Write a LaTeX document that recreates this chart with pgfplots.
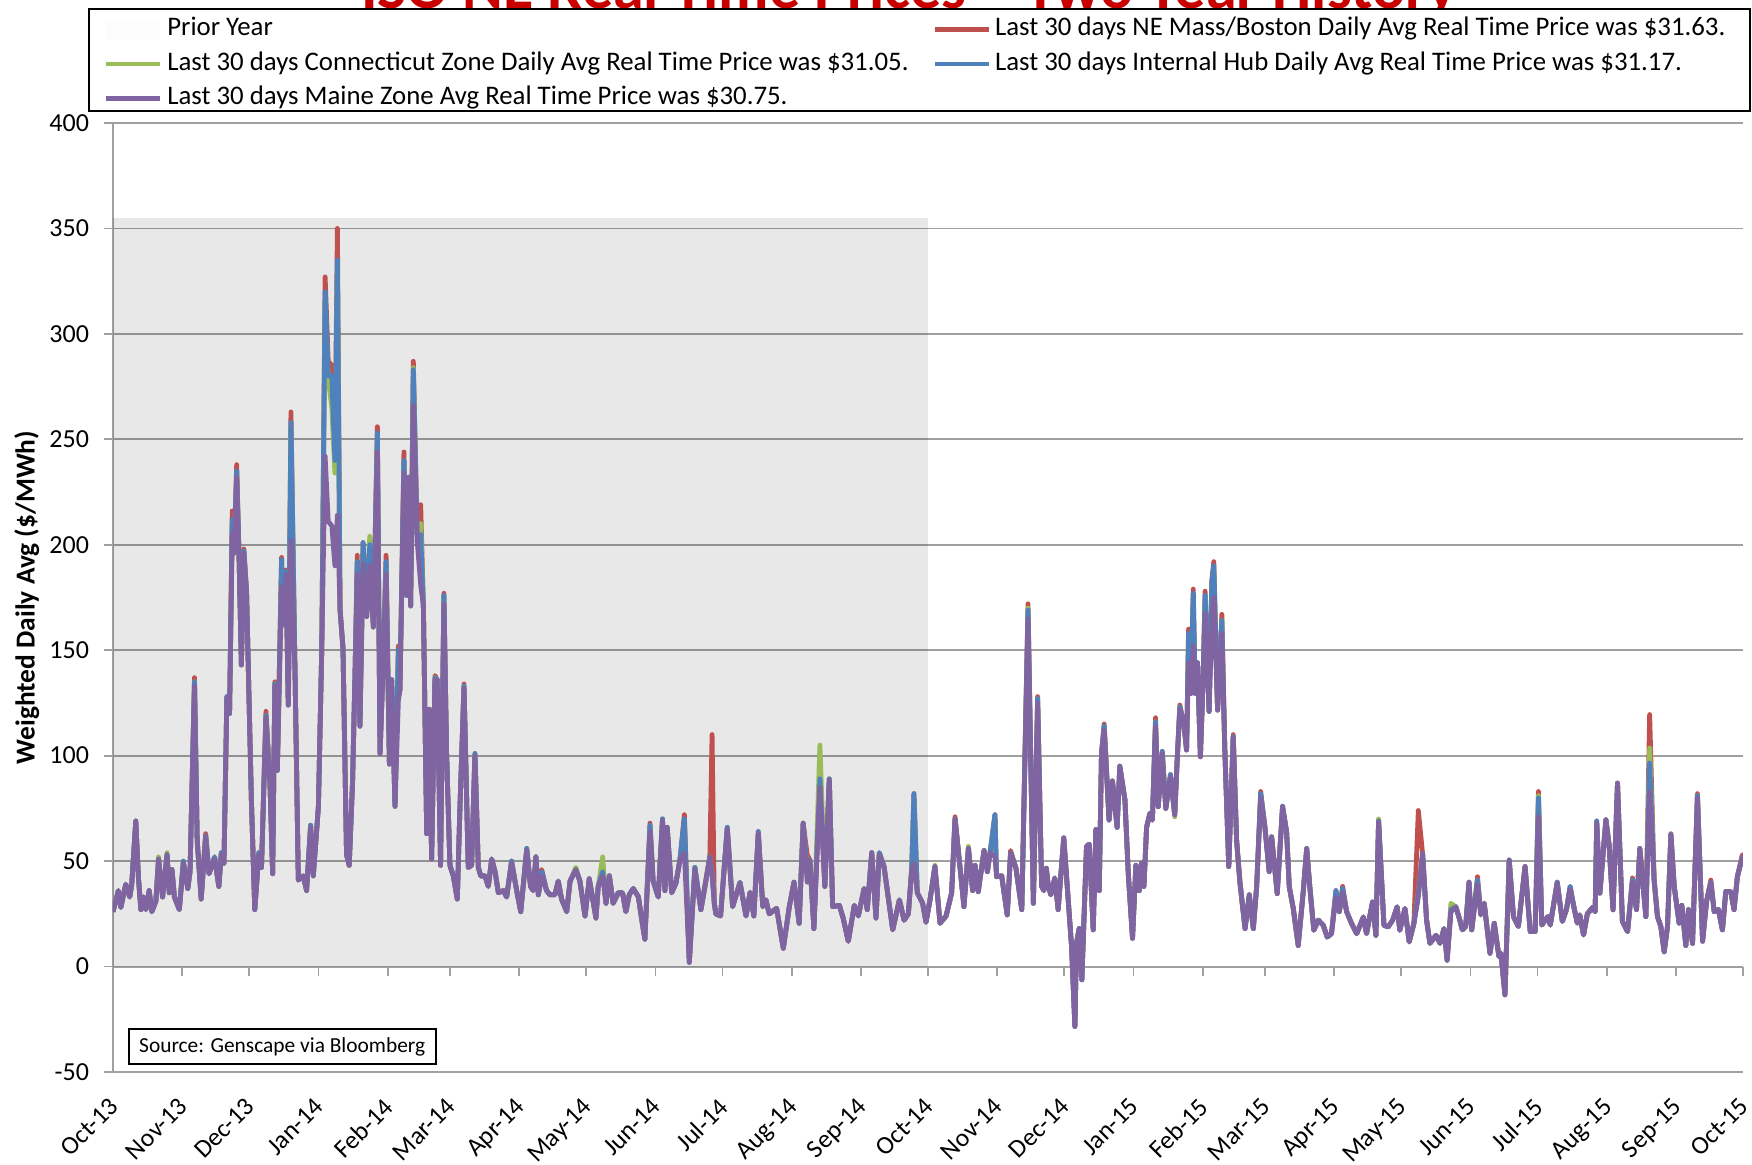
\documentclass[border=0pt]{standalone}
\usepackage{pgfplots}
\pgfplotsset{compat=1.18}
\usepackage{pgfplotstable}
\usepackage{fontspec}
\setmainfont{Carlito}
\definecolor{sred}{RGB}{192,80,77}
\definecolor{sgreen}{RGB}{155,187,89}
\definecolor{sblue}{RGB}{79,129,189}
\definecolor{spurple}{RGB}{128,100,162}
\definecolor{gridgray}{RGB}{160,160,160}
\definecolor{titlered}{RGB}{200,0,0}
\pgfplotstableread{
d P B G R
0 26 26 26 26
2.4 36 36 36 36
3.5 28 28 28 28
5.7 39 39 39 39
7.5 33 33 33 33
8.4 39 39 39 39
10.2 69 69 69 69
11.4 42 42 42 42
12.5 27 27 27 27
13.7 33 33 33 33
14.7 27 27 27 27
16.2 36 36 36 36
17.4 26 26 26 26
19.2 31 31 31 31
20.4 51 51 52 51
22.2 33 33 33 33
24.2 53 53 54 53
25.2 35 35 35 35
26.4 46 46 46 46
27.5 33 33 33 33
29.7 27 27 27 27
31.5 49 50 50 49
33.5 37 37 37 37
34.5 45 45 45 45
36.5 133 135 135 137
37.7 60 60 60 60
39.5 32 32 32 32
41.5 62 62 62 63
43 44 44 44 44
45.5 51 52 52 52
47.4 38 38 38 38
48.5 53 54 54 54
49.7 49 49 49 49
51 127 128 127 128
52.2 120 120 120 120
53.4 205 212 210 216
54.2 196 196 196 196
55.4 232 235 234 238
56.5 192 192 192 192
57.5 143 143 143 143
58.6 196 197 197 198
59.8 178 178 178 178
62 78 78 78 78
63.5 27 27 27 27
65.3 53 54 54 54
66.5 47 47 47 47
68.5 118 119 119 121
70.3 87 87 87 87
71.5 44 44 44 44
72.5 133 134 134 135
73.6 93 93 93 93
75.5 180 193 190 194
76.3 162 162 162 162
77.5 186 187 187 188
78.5 124 124 124 124
79.7 202 258 255 263
81.5 141 141 141 141
83 41 41 41 41
85.2 43 43 43 43
86.7 36 36 36 36
88.5 66 67 67 67
89.7 43 43 43 43
92 76 76 76 76
93.5 151 151 151 151
95 242 320 316 327
96.4 211 280 279 287
98 209 280 265 285
99.4 190 240 234 245
100.5 214 335 330 350
101.7 169 169 169 169
103 151 151 151 151
104.6 53 53 53 53
105.8 48 48 48 48
107.3 88 88 88 88
108.4 139 139 139 139
109.4 186 192 190 195
110.6 114 114 114 114
112 191 201 198 201
113.6 166 166 166 166
115 190 200 204 202
116.6 161 161 161 161
118.4 244 253 252 256
119.6 101 101 101 101
121 144 144 144 144
122.3 186 192 190 195
123.8 96 96 96 96
124.8 136 136 136 136
126.3 76 76 76 76
127.8 126 150 148 152
128.5 131 131 131 131
130.3 234 240 238 244
131.5 176 176 176 176
132.3 232 232 232 232
133.3 171 171 171 171
134.5 266 283 284 287
136.3 201 201 201 201
137.8 181 205 210 219
139 171 171 171 171
140.5 63 63 63 63
141.7 122 122 122 122
142.7 51 51 51 51
144.2 136 137 137 138
145.2 136 136 136 136
146.7 48 48 48 48
148.2 172 176 175 177
149.4 101 101 101 101
150.9 48 48 48 48
152.4 43 43 43 43
154.2 32 32 32 32
155.4 76 76 76 76
157.2 132 133 133 134
159.1 47 47 47 47
160.6 48 48 48 48
162.1 100 101 101 101
163.6 47 47 47 47
164.7 43 43 43 43
166.6 43 43 43 43
168.1 38 38 38 38
169.6 51 51 51 51
171.1 45 45 45 45
172.6 35 35 35 35
174.8 36 36 36 36
176.3 33 33 33 33
178.5 49 50 50 50
180.8 36 36 36 36
182.6 26 26 26 26
185.3 55 56 55 56
187 38 38 38 38
188.2 36 36 36 36
189.4 52 52 52 52
190.5 34 34 34 34
192 43 45 44 46
194.2 36 36 36 36
195.7 34 34 34 34
197.9 34 34 34 34
199.4 40.5 40.5 40.5 40.5
200.9 32 32 32 32
203.2 26 26 26 26
204.7 40.5 40.5 40.5 40.5
207.3 46 46 47 46
209.1 40.5 40.5 40.5 40.5
211.4 24 24 24 24
213.3 41.6 41.6 41.6 41.6
216.3 23 23 23 23
217.3 38 38 38 38
219.3 43 45 52 45
220.8 30 30 30 30
222.3 43 43 43 43
224 30 30 30 30
226.3 35 35 35 35
228.2 35 35 35 35
229.7 26 26 26 26
231.2 34 34 34 34
233 37 37 37 37
235.3 33 33 33 33
236.7 23 23 23 23
238.2 13 13 13 13
240.5 64 67 66 68
241.9 40.5 40.5 40.5 40.5
244.2 33 33 33 33
246.1 69 70 70 70
247.2 36 36 36 36
248.2 66 66 66 66
250.2 35 35 35 35
252.1 39.5 39.5 39.5 39.5
253.9 50.5 50.5 50.5 50.5
255.9 54 70 65 72
258.1 2 2 2 2
260.6 46 47 47 47
263.3 27 27 27 27
265.1 38 38 38 38
267.3 52 52 52 52
268.3 44 44 44 110
269.3 30 30 30 30
270 25 25 25 25
272.1 24 24 24 24
275.1 65 66 66 66
277.5 28.4 28.4 28.4 28.4
280.8 39.5 40 40 40
283.5 24 24 24 24
285.3 35 35 35 35
287 24 24 24 24
289 63 64 63 64
291 28.4 28.4 28.4 28.4
292.4 31.6 31.6 31.6 31.6
293.9 25 25 25 25
297.2 27.6 27.6 27.6 27.6
300.2 8.7 8.7 8.7 8.7
302.9 28.4 28.4 28.4 28.4
305 40 40 40 40
307.3 20.5 20.5 20.5 20.5
309.1 68 68 68 68
310.9 40 45 45 53
312.1 50.5 50.5 50.5 50.5
313.9 18 18 18 18
316.6 85 89 105 89
318.8 38 38 38 38
320.8 88.5 89 89 89
322.3 28.4 28.4 28.4 28.4
325.3 29 29 29 29
327 23 23 23 23
329.3 12 12 12 12
332 29 29 29 29
333.8 24 24 24 24
336.4 37 37 37 37
337.8 27 27 27 27
339.8 54 54 54 54
341.7 23 23 23 23
343.2 53 54 54 54
345.3 47.4 47.4 47.4 47.4
349.2 17.4 17.4 17.4 17.4
352.2 31.6 31.6 31.6 31.6
354.3 22 22 22 22
356.2 25 25 25 25
357.7 46 46 46 46
358.7 49 82 80 82
360.2 35 35 35 35
362.6 30 30 30 30
364.1 21 21 21 21
365.9 31.6 31.6 31.6 31.6
368.1 47.4 47.4 48 47.4
370.4 20.5 20.5 20.5 20.5
373.1 24 24 24 24
375.6 35 35 35 35
377.1 70 70 70 71
379.3 47.4 47.4 47.4 47.4
381.1 28.4 28.4 28.4 28.4
383.1 56 56 57 56
385 36 36 36 36
386.1 48 48 48 48
387.5 35.5 35.5 35.5 35.5
390.1 55 55 55 55
391.6 45 45 45 45
392.8 54 54 54 54
395 52 72 70 72
395.7 42.6 42.6 42.6 42.6
398 43 43 43 43
400.5 24.5 24.5 24.5 24.5
402 54 54 54 55
404.4 46.6 46.6 46.6 46.6
407 27 27 27 27
409.8 165 169 170 172
412.2 30 30 30 30
414.1 125 127 127 128
415.9 38 38 38 38
416.9 36 36 36 36
418 46.6 46.6 46.6 46.6
418.8 38.7 38.7 38.7 38.7
420 34 34 34 34
421.8 42 42 42 42
423.3 27 27 27 27
425.8 61 61 61 61
427.8 31.6 31.6 31.6 31.6
429.3 9.5 9.5 9.5 9.5
430.8 -28.4 -28.4 -28.4 -28.4
431.5 11 11 11 11
432.7 18 18 18 18
433.9 -6.3 -6.3 -6.3 -6.3
436 57 57 57 57
437.2 58 58 58 58
439 17.4 17.4 17.4 17.4
440.2 65 65 65 65
441.7 36 36 36 36
442.7 101 101 101 101
443.9 112 114 113 115
446.1 69.5 69.5 69.5 69.5
447.6 88 88 88 88
449.7 66 66 66 66
450.9 95 95 95 95
453.2 79 79 79 79
454.7 44 44 44 44
456.6 13.4 13.4 13.4 13.4
458.1 48 48 48 48
459.6 36 36 36 36
460.6 49 49 49 49
461.7 38 38 38 38
462.9 66 66 66 66
464.4 72.7 72.7 72.7 72.7
465.5 69.5 69.5 69.5 69.5
466.9 114 116 116 118
468.1 75.8 75.8 75.8 75.8
469.9 101 102 102 102
471.5 75 75 75 75
473.6 90 91 91 91
475.5 72 72 71 72
476.6 98 98 98 98
477.8 122 123 123 124
479.6 115 115 115 115
480.8 102.7 102.7 102.7 102.7
481.7 144 158 155 160
482.7 129.5 129.5 129.5 129.5
483.8 152 177 170 179
484.7 129.5 129.5 129.5 129.5
485.7 144 144 144 144
487 99.5 99.5 99.5 99.5
488.2 136 136 136 136
489.1 167.5 176 175 178
490.9 121 121 121 121
492.1 164 182 180 183
493 175 190 188 192
494.7 121.6 121.6 121.6 121.6
496.6 158 164 164 167
497.9 104 104 104 104
499.7 47.4 47.4 47.4 47.4
501.7 109 109 109 110
503.2 60 60 60 60
504.7 40 40 40 40
507 18 18 18 18
508.9 34 34 34 34
510.7 18 18 18 18
512.2 38 38 38 38
514 80 82 81 83
515.9 66 66 66 66
517.8 45 45 45 45
518.9 61.5 61.5 61.5 61.5
521.4 34.6 34.6 34.6 34.6
523.8 75.7 76 75 76
525.6 63.8 63.8 63.8 63.8
526.8 37.8 37.8 37.8 37.8
528.6 27.5 27.5 27.5 27.5
530.8 10 10 10 10
533.1 36 36 36 36
534.6 56 56 56 56
536 37.8 37.8 37.8 37.8
537.8 17.2 17.2 17.2 17.2
539.8 22 22 22 22
542 19.6 19.6 19.6 19.6
543.8 14 14 14 14
545.7 15.6 15.6 15.6 15.6
547.7 33 36 34 36
549.2 26 26 26 26
550.7 35 37 36 38
552.5 26 26 26 26
554.7 20.4 20.4 20.4 20.4
557 15.6 15.6 15.6 15.6
560 23.5 23.5 23.5 23.5
561.4 15.6 15.6 15.6 15.6
564.1 30.6 30.6 30.6 30.6
565.6 14.8 14.8 14.8 14.8
566.8 68.6 69 70 69
569.2 19.6 19.6 19.6 19.6
571.1 18.8 18.8 18.8 18.8
573.1 22 22 22 22
575.1 28.3 28.3 28.3 28.3
576.3 17.2 17.2 17.2 17.2
578.6 27.5 27.5 27.5 27.5
580.5 11.7 11.7 11.7 11.7
582.6 20.4 20.4 20.4 20.4
584.6 33 35 35 74
586.5 53.6 53.6 53.6 53.6
588.3 22 22 22 22
589.8 11 11 11 11
592.5 14.8 14.8 14.8 14.8
594.3 11 11 11 11
596.1 18 18 18 18
597.5 3 3 3 3
599.2 26 27 30 27
601.4 28.3 28.3 28.3 28.3
603.2 22 22 22 22
604.3 17.4 17.4 17.4 17.4
605.8 19 19 19 19
607.3 40 40 40 40
608.5 17.4 17.4 17.4 17.4
611.1 38.7 41 41 42.6
612.6 24.5 24.5 24.5 24.5
614.1 30 30 30 30
616.7 6.3 6.3 6.3 6.3
618.6 20.5 20.5 20.5 20.5
620.7 4.7 4.7 4.7 4.7
621.6 6.3 6.3 6.3 6.3
623.4 -13.4 -13.4 -13.4 -13.4
625.3 50.5 50.5 50.5 50.5
627.2 23.7 23.7 23.7 23.7
629.4 19 19 19 19
632.4 47.4 47.4 47.4 47.4
634.7 16.6 16.6 16.6 16.6
636.9 16.6 16.6 16.6 16.6
638.4 71 80 81 83
639.9 19.7 19.7 19.7 19.7
642.6 23.7 23.7 23.7 23.7
643.7 19.7 19.7 19.7 19.7
646.8 39.6 40 40 40
649.1 21.4 21.4 21.4 21.4
650.9 26.9 26.9 26.9 26.9
652.6 36.7 38 37 38
654.3 28 28 28 28
655.8 20.6 20.6 20.6 20.6
656.9 24.5 24.5 24.5 24.5
658.6 15 15 15 15
660.3 25 25 25 25
662.6 28 28 28 28
663.8 26 26 26 26
664.5 68 69 68 69
665.9 34.8 34.8 34.8 34.8
668.6 69.6 69.6 69.6 69.6
670 58 58 58 58
671.8 26.9 26.9 26.9 26.9
673.8 87 87 87 87
676 21.4 21.4 21.4 21.4
678.3 16.6 16.6 16.6 16.6
680.5 40 41 41 42
682.3 27 27 27 27
683.8 56 56 56 56
686.5 23.7 23.7 23.7 23.7
688.2 83 96.5 103.6 119.5
690.2 41 41 41 41
691.7 23.7 23.7 23.7 23.7
693.2 19 19 19 19
694.7 7 7 7 7
696.2 19 19 19 19
697.7 62.5 62.5 62.5 63
699.2 38 38 38 38
701.4 20.6 20.6 20.6 20.6
702.6 29 29 29 29
704.4 10 10 10 10
705.6 27 27 27 27
707.4 11 11 11 11
709.6 80 81 81 82
711.9 12 12 12 12
713.7 31 31 31 31
715.6 40 40 40 41
717.1 26 26 26 26
719 27 27 27 27
720.8 17.4 17.4 17.4 17.4
722.3 35.6 35.6 35.6 35.6
724.5 35.6 35.6 35.6 35.6
726 27 27 27 27
727.5 42.7 42.7 42.7 42.7
729.7 52 52 52 53
730 51 51 51 51
}\prices
\begin{document}
\begin{tikzpicture}
\useasboundingbox (0,0) rectangle (876pt,582.5pt);
\node[font=\bfseries\fontsize{31}{36}\selectfont, text=titlered, anchor=base]
  at (454.5pt,578.3pt) {ISO NE Real Time Prices – Two Year History};
% axis lines and tick marks
\begin{axis}[
  at={(56.5pt,46.5pt)}, anchor=south west,
  scale only axis, width=815pt, height=474.5pt,
  xmin=0, xmax=730, ymin=-50, ymax=400,
  axis x line=middle, axis y line=left,
  axis line style={-, draw=gridgray, line width=1pt},
  xtick={0,31,61,92,123,151,182,212,243,273,304,335,365,396,426,457,488,516,547,577,608,638,669,700,730},
  ytick={-50,0,50,100,150,200,250,300,350,400},
  xticklabels=\empty, yticklabels=\empty,
  tick align=outside, major tick length=4.5pt,
  tick style={draw=gridgray, line width=0.9pt},
]
\addplot[draw=none, forget plot] coordinates {(0,0) (730,0)};
\end{axis}
\begin{axis}[
  at={(56.5pt,46.5pt)}, anchor=south west,
  scale only axis, width=815pt, height=474.5pt,
  xmin=0, xmax=730, ymin=-50, ymax=400,
  axis x line*=bottom, axis y line*=left,
  axis line style={-, draw=none},
  xtick={0,31,61,92,123,151,182,212,243,273,304,335,365,396,426,457,488,516,547,577,608,638,669,700,730},
  xticklabels={Oct-13,Nov-13,Dec-13,Jan-14,Feb-14,Mar-14,Apr-14,May-14,Jun-14,Jul-14,Aug-14,Sep-14,Oct-14,Nov-14,Dec-14,Jan-15,Feb-15,Mar-15,Apr-15,May-15,Jun-15,Jul-15,Aug-15,Sep-15,Oct-15},
  ytick={-50,0,50,100,150,200,250,300,350,400},
  ymajorgrids, grid style={draw=gridgray, line width=0.9pt},
  major tick length=0pt,
  tick style={draw=none},
  /pgf/number format/assume math mode=true,
  yticklabel style={xshift=-8.5pt, font=\fontsize{13}{15}\selectfont},
  xticklabel style={xshift=-2.6pt, yshift=-12pt, rotate=45, anchor=north east, inner sep=0pt, font=\fontsize{12.8}{14}\selectfont},
  ylabel={Weighted Daily Avg (\$/MWh)},
  ylabel style={font=\bfseries\fontsize{13.7}{16}\selectfont, at={(axis description cs:-0.0529,0.5)}, anchor=center},
  legend columns=2,
  legend cell align=left,
  legend style={at={(axis description cs:-0.01503,1.1214)}, anchor=north west,
    draw=black, line width=1pt, fill=white,
    inner xsep=7.25pt, inner ysep=0.3pt,
    column sep=0pt, row sep=5.3pt,
    font=\fontsize{13.4}{15}\selectfont,
    nodes={inner sep=0pt, text height=9pt, text depth=2.8pt}},
  legend image code/.code={\draw[#1, line width=2.4pt] (0pt,0pt) -- (27pt,0pt);},
]
\addplot[draw=none, fill=black, fill opacity=0.09,
  legend image code/.code={\fill[black!10] (0pt,-4.5pt) rectangle (27pt,4.5pt);\path (0pt,10.2pt) -- (27pt,10.2pt);}]
  coordinates {(0,0) (0,355) (365,355) (365,0)};
\addlegendentry{\makebox[384.75pt][l]{\hspace{2.25pt}Prior Year}}
\addplot[sred, line width=2.4pt, line join=round] table[x=d, y=R] {\prices};
\addlegendentry{\makebox[372.25pt][l]{\hspace{2pt}Last 30 days NE Mass/Boston Daily Avg Real Time Price was \$31.63.}}
\addplot[sgreen, line width=2.4pt, line join=round] table[x=d, y=G] {\prices};
\addlegendentry{\makebox[384.75pt][l]{\hspace{2.25pt}Last 30 days Connecticut Zone Daily Avg Real Time Price was \$31.05.}}
\addplot[sblue, line width=2.4pt, line join=round] table[x=d, y=B] {\prices};
\addlegendentry{\makebox[372.25pt][l]{\hspace{2pt}Last 30 days Internal Hub Daily Avg Real Time Price was \$31.17.}}
\addplot[spurple, line width=2.4pt, line join=round] table[x=d, y=P] {\prices};
\addlegendentry{\makebox[384.75pt][l]{\hspace{2.25pt}Last 30 days Maine Zone Avg Real Time Price was \$30.75.}}
\node[draw=black, line width=1pt, fill=white, font=\fontsize{10.7}{13}\selectfont,
  minimum width=153.6pt, minimum height=17.5pt, inner sep=0pt]
  at (axis description cs:0.1038,0.0269) {Source: Genscape via Bloomberg};
\end{axis}
\end{tikzpicture}
\end{document}
